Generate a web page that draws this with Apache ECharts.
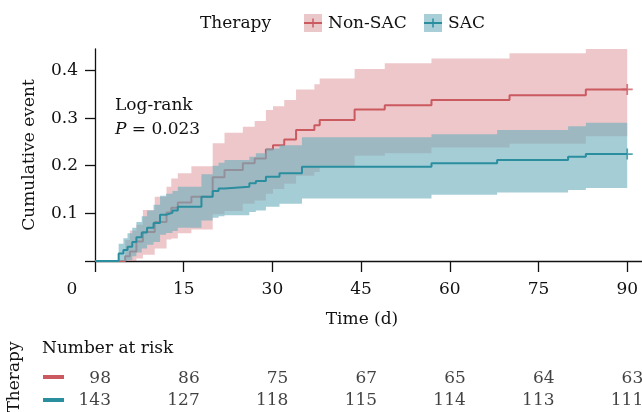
<!DOCTYPE html>
<html><head><meta charset="utf-8">
<script src="https://cdn.jsdelivr.net/npm/echarts@6/dist/echarts.min.js"></script>
<style>html,body{margin:0;padding:0;background:#fff}#c{width:642px;height:412px}</style>
</head><body><div id="c"></div>
<script>
// ---- data ----
const groups = ['Non-SAC', 'SAC'];
const xTicks = [0, 15, 30, 45, 60, 75, 90];
const yTicks = [0.1, 0.2, 0.3, 0.4];

const nonSacTime  = [0, 5.1, 5.9, 7.0, 8.1, 10.1, 12.1, 12.9, 14.0, 16.3, 19.9, 21.9, 25.0, 27.0, 28.9, 30.1, 32.0, 34.0, 37.1, 38.0, 43.9, 49.0, 56.9, 70.1, 83.0, 90];
const nonSacEst   = [0, 0.010, 0.020, 0.041, 0.061, 0.082, 0.102, 0.112, 0.123, 0.135, 0.176, 0.191, 0.205, 0.215, 0.234, 0.243, 0.255, 0.275, 0.285, 0.296, 0.318, 0.327, 0.338, 0.348, 0.360, 0.360];
const nonSacUpper = [0, 0.044, 0.064, 0.076, 0.107, 0.135, 0.156, 0.173, 0.184, 0.199, 0.247, 0.269, 0.282, 0.294, 0.317, 0.325, 0.338, 0.360, 0.371, 0.383, 0.403, 0.415, 0.425, 0.436, 0.445, 0.445];
const nonSacLower = [0, 0, 0, 0.005, 0.013, 0.026, 0.045, 0.047, 0.058, 0.066, 0.098, 0.105, 0.120, 0.127, 0.141, 0.151, 0.162, 0.179, 0.187, 0.197, 0.221, 0.226, 0.238, 0.246, 0.262, 0.262];

const sacTime  = [0, 4.0, 4.8, 5.5, 6.3, 7.0, 7.9, 8.8, 9.9, 11.0, 12.0, 13.1, 14.0, 18.0, 19.9, 20.9, 21.9, 26.1, 27.2, 28.9, 31.2, 35.0, 56.9, 68.0, 80.0, 83.0, 90];
const sacEst   = [0, 0.016, 0.023, 0.030, 0.040, 0.050, 0.060, 0.070, 0.080, 0.097, 0.101, 0.106, 0.114, 0.135, 0.147, 0.152, 0.156, 0.163, 0.168, 0.177, 0.184, 0.198, 0.205, 0.212, 0.219, 0.2245, 0.2245];
const sacUpper = [0, 0.036, 0.048, 0.058, 0.070, 0.082, 0.094, 0.106, 0.118, 0.137, 0.141, 0.147, 0.156, 0.182, 0.200, 0.206, 0.212, 0.219, 0.226, 0.236, 0.243, 0.2595, 0.266, 0.275, 0.283, 0.290, 0.290];
const sacLower = [0, 0, 0, 0.002, 0.010, 0.018, 0.026, 0.034, 0.040, 0.055, 0.059, 0.063, 0.070, 0.085, 0.091, 0.094, 0.096, 0.103, 0.106, 0.114, 0.120, 0.131, 0.139, 0.144, 0.149, 0.153, 0.153];

const riskTimes   = [0, 15, 30, 45, 60, 75, 90];
const riskNonSac  = [98, 86, 75, 67, 65, 64, 63];
const riskSac     = [143, 127, 118, 115, 114, 113, 111];

// ---- styles ----
const FONT = 'DejaVu Serif';
const TXT = '#111';
const RED = '#CB5A60';
const TEAL = '#2A8E9F';
const RED_FILL = 'rgba(200,80,88,0.32)';
const TEAL_FILL = 'rgba(112,176,190,0.63)';

function bandSeries(name, times, lo, hi, fill, z) {
  return {
    type: 'custom', name: name + ' CI', z: z, silent: true,
    xAxisIndex: 0, yAxisIndex: 0,
    data: [[0, 0]],
    renderItem: function (params, api) {
      const pts = [];
      const n = times.length;
      for (let i = 0; i < n; i++) {
        const t1 = i + 1 < n ? times[i + 1] : times[i];
        pts.push(api.coord([times[i], hi[i]]), api.coord([t1, hi[i]]));
      }
      for (let i = n - 1; i >= 0; i--) {
        const t1 = i + 1 < n ? times[i + 1] : times[i];
        pts.push(api.coord([t1, lo[i]]), api.coord([times[i], lo[i]]));
      }
      return { type: 'polygon', shape: { points: pts }, style: { fill: fill } };
    }
  };
}
function stepSeries(name, times, est, color, z) {
  return {
    type: 'line', name: name, step: 'end', z: z, silent: true,
    xAxisIndex: 0, yAxisIndex: 0,
    data: times.map((t, i) => [t, est[i]]),
    symbol: 'none', lineStyle: { color: color, width: 2 }, itemStyle: { color: color }
  };
}
const plusPath = 'path://M4.2,0H5.8V4.2H10V5.8H5.8V10H4.2V5.8H0V4.2H4.2Z';
function censorSeries(name, times, est, color, z) {
  const i = times.length - 1;
  return {
    type: 'scatter', name: name + ' censor', z: z, silent: true,
    xAxisIndex: 0, yAxisIndex: 0,
    data: [[times[i], est[i]]],
    symbol: plusPath, symbolSize: 11, itemStyle: { color: color }
  };
}
function riskSeries(counts, row) {
  return {
    type: 'scatter', xAxisIndex: 1, yAxisIndex: 1, silent: true,
    symbolSize: 1, itemStyle: { color: 'rgba(0,0,0,0)' },
    data: riskTimes.map((t, i) => [t, row, counts[i]]),
    label: {
      show: true, position: 'inside', align: 'right', verticalAlign: 'middle',
      offset: [16, 0], formatter: p => String(p.value[2]),
      fontFamily: FONT, fontSize: 17, color: TXT
    }
  };
}

const chart = echarts.init(document.getElementById('c'), null, { renderer: 'canvas' });
chart.setOption({
  animation: false,
  backgroundColor: '#fff',
  textStyle: { fontFamily: FONT },
  grid: [
    { left: 95, top: 49, width: 548.8, height: 212, containLabel: false },
    { left: 95, top: 367, width: 548.8, height: 46, containLabel: false }
  ],
  xAxis: [
    {
      type: 'value', gridIndex: 0, min: 0, max: 92.5,
      axisLine: { show: true, onZero: false, lineStyle: { color: '#111', width: 1.3 } },
      axisTick: { show: true, length: 11, customValues: xTicks, lineStyle: { color: '#111', width: 1.3 } },
      axisLabel: {
        customValues: xTicks, margin: 20.5, fontFamily: FONT, fontSize: 17, color: TXT,
        formatter: v => v === 0 ? '{z|0}' : String(v),
        rich: { z: { fontFamily: FONT, fontSize: 17, color: TXT, padding: [0, 46, 0, 0] } }
      },
      splitLine: { show: false },
      name: 'Time (d)', nameLocation: 'middle', nameGap: 50.5,
      nameTextStyle: { fontFamily: FONT, fontSize: 17, color: TXT, padding: [0, 13, 0, 0] }
    },
    { type: 'value', gridIndex: 1, min: 0, max: 92.5, show: false }
  ],
  yAxis: [
    {
      type: 'value', gridIndex: 0, min: 0, max: 0.445, interval: 0.1,
      axisLine: { show: true, onZero: false, lineStyle: { color: '#111', width: 1.3 } },
      axisTick: { show: true, length: 10, customValues: [0].concat(yTicks), lineStyle: { color: '#111', width: 1.3 } },
      axisLabel: {
        customValues: yTicks, margin: 17, fontFamily: FONT, fontSize: 17, color: TXT,
        formatter: v => v.toFixed(1)
      },
      splitLine: { show: false },
      name: 'Cumulative event', nameLocation: 'middle', nameGap: 57,
      nameTextStyle: { fontFamily: FONT, fontSize: 17, color: TXT }
    },
    { type: 'category', gridIndex: 1, data: groups, inverse: true, show: false }
  ],
  series: [
    bandSeries(groups[0], nonSacTime, nonSacLower, nonSacUpper, RED_FILL, 1),
    stepSeries(groups[0], nonSacTime, nonSacEst, RED, 2),
    bandSeries(groups[1], sacTime, sacLower, sacUpper, TEAL_FILL, 3),
    stepSeries(groups[1], sacTime, sacEst, TEAL, 4),
    censorSeries(groups[0], nonSacTime, nonSacEst, RED, 5),
    censorSeries(groups[1], sacTime, sacEst, TEAL, 5),
    riskSeries(riskNonSac, 0),
    riskSeries(riskSac, 1)
  ],
  graphic: [
    // legend
    { type: 'text', left: 200, top: 15, style: { text: 'Therapy', font: '17px "DejaVu Serif"', fill: TXT } },
    { type: 'rect', shape: { x: 304, y: 14, width: 18, height: 18 }, style: { fill: '#EAC8CA' } },
    { type: 'line', shape: { x1: 304, y1: 23, x2: 322, y2: 23 }, style: { stroke: RED, lineWidth: 2 } },
    { type: 'line', shape: { x1: 313, y1: 18.5, x2: 313, y2: 27.5 }, style: { stroke: RED, lineWidth: 1.5 } },
    { type: 'text', left: 328, top: 15, style: { text: groups[0], font: '17px "DejaVu Serif"', fill: TXT } },
    { type: 'rect', shape: { x: 424, y: 14, width: 18, height: 18 }, style: { fill: '#A8CFD8' } },
    { type: 'line', shape: { x1: 424, y1: 23, x2: 442, y2: 23 }, style: { stroke: TEAL, lineWidth: 2 } },
    { type: 'line', shape: { x1: 433, y1: 18.5, x2: 433, y2: 27.5 }, style: { stroke: TEAL, lineWidth: 1.5 } },
    { type: 'text', left: 448, top: 15, style: { text: groups[1], font: '17px "DejaVu Serif"', fill: TXT } },
    // annotation
    { type: 'text', left: 115, top: 97, style: { text: 'Log-rank', font: '17px "DejaVu Serif"', fill: TXT } },
    { type: 'text', left: 115, top: 121, style: {
        text: '{i|P} = 0.023', font: '17px "DejaVu Serif"', fill: TXT,
        rich: { i: { fontStyle: 'italic', fontFamily: FONT, fontSize: 17, fill: TXT } } } },
    // risk table header
    { type: 'text', left: 42, top: 340, style: { text: 'Number at risk', font: '17px "DejaVu Serif"', fill: TXT } },
    { type: 'text', x: 15, y: 377, rotation: Math.PI / 2,
      style: { text: 'Therapy', font: '17px "DejaVu Serif"', fill: TXT, align: 'center', verticalAlign: 'middle' } },
    { type: 'rect', shape: { x: 43, y: 375, width: 21, height: 4 }, style: { fill: RED } },
    { type: 'rect', shape: { x: 43, y: 398, width: 21, height: 4 }, style: { fill: TEAL } }
  ]
});
</script></body></html>
